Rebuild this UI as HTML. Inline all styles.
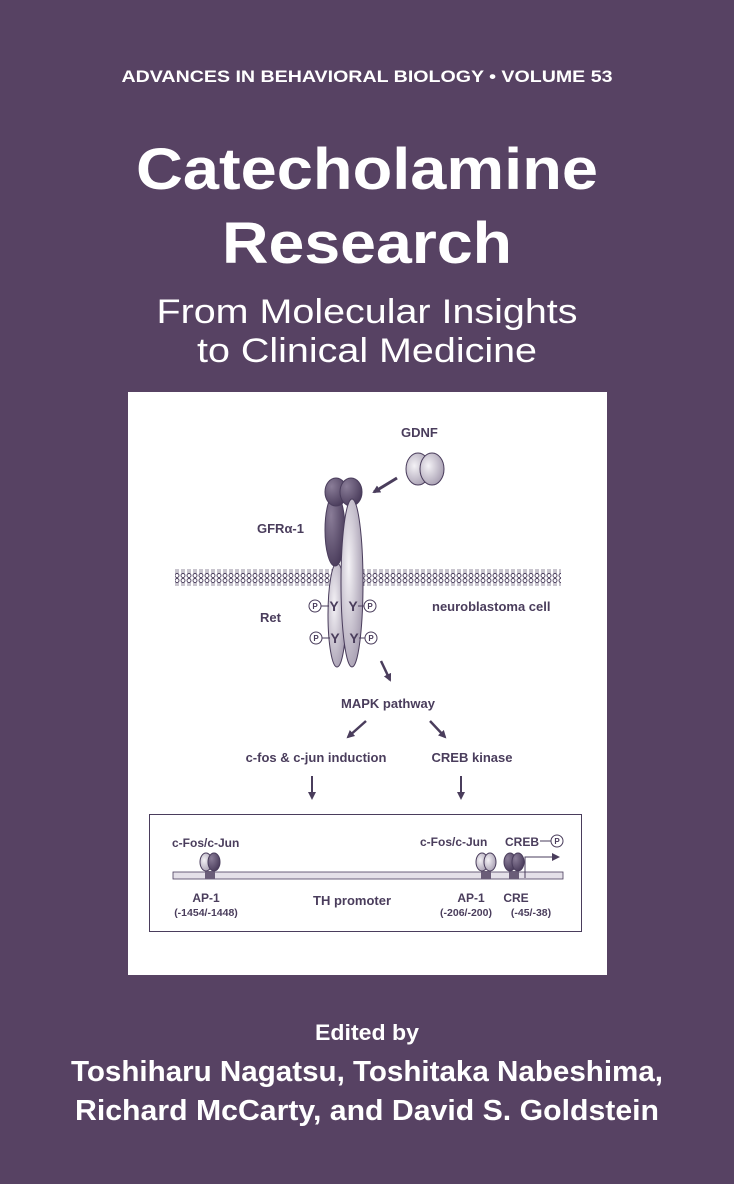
<!DOCTYPE html>
<html><head><meta charset="utf-8"><style>
html,body{margin:0;padding:0;background:#574263;}
svg{display:block}
</style></head><body>
<svg width="734" height="1184" viewBox="0 0 734 1184" xmlns="http://www.w3.org/2000/svg" font-family="Liberation Sans, Arial, sans-serif">
<defs>
<pattern id="mem" width="6" height="17" patternUnits="userSpaceOnUse">
<rect width="6" height="17" fill="#fff"/>
<circle cx="3" cy="2.5" r="2" fill="none" stroke="#4a3d5c" stroke-width="0.9"/>
<circle cx="3" cy="14.5" r="2" fill="none" stroke="#4a3d5c" stroke-width="0.9"/>
<line x1="2" y1="4.5" x2="2" y2="12.5" stroke="#4a3d5c" stroke-width="0.6"/>
<line x1="4" y1="4.5" x2="4" y2="12.5" stroke="#4a3d5c" stroke-width="0.6"/>
</pattern>
<radialGradient id="lg" cx="0.35" cy="0.4" r="0.8"><stop offset="0" stop-color="#f4f2f6"/><stop offset="1" stop-color="#9a90a6"/></radialGradient>
<radialGradient id="dg" cx="0.3" cy="0.3" r="0.9"><stop offset="0" stop-color="#8a7d98"/><stop offset="1" stop-color="#3e3050"/></radialGradient>
<marker id="ah" markerWidth="8" markerHeight="8" refX="6" refY="4" orient="auto" markerUnits="userSpaceOnUse"><path d="M0,0 L8,4 L0,8 Z" fill="#4a3d5c"/></marker>
</defs>
<rect width="734" height="1184" fill="#574263"/>
<g fill="#fff" text-anchor="middle" font-weight="bold">
<text x="367" y="82" font-size="17" textLength="491" lengthAdjust="spacingAndGlyphs">ADVANCES IN BEHAVIORAL BIOLOGY • VOLUME 53</text>
<text x="367" y="189" font-size="58" textLength="462" lengthAdjust="spacingAndGlyphs">Catecholamine</text>
<text x="367" y="263" font-size="58" textLength="290" lengthAdjust="spacingAndGlyphs">Research</text>
<text x="367" y="1040" font-size="22" textLength="104" lengthAdjust="spacingAndGlyphs">Edited by</text>
<text x="367" y="1081" font-size="29" textLength="592" lengthAdjust="spacingAndGlyphs">Toshiharu Nagatsu, Toshitaka Nabeshima,</text>
<text x="367" y="1120" font-size="29" textLength="584" lengthAdjust="spacingAndGlyphs">Richard McCarty, and David S. Goldstein</text>
</g>
<g fill="#fff" text-anchor="middle">
<text x="367" y="323" font-size="34" textLength="421" lengthAdjust="spacingAndGlyphs">From Molecular Insights</text>
<text x="367" y="362" font-size="34" textLength="340" lengthAdjust="spacingAndGlyphs">to Clinical Medicine</text>
</g>
<rect x="128" y="392" width="479" height="583" fill="#fff"/>
<g fill="#4a3d5c" font-weight="bold" font-size="13">
<text x="401" y="437">GDNF</text>
<text x="257" y="533">GFRα-1</text>
<text x="260" y="622">Ret</text>
<text x="432" y="611">neuroblastoma cell</text>
<text x="388" y="708" text-anchor="middle">MAPK pathway</text>
<text x="316" y="762" text-anchor="middle">c-fos &amp; c-jun induction</text>
<text x="472" y="762" text-anchor="middle">CREB kinase</text>
<text x="172" y="847" font-size="12">c-Fos/c-Jun</text>
<text x="420" y="846" font-size="12">c-Fos/c-Jun</text>
<text x="505" y="846" font-size="12">CREB</text>
<text x="206" y="902" font-size="12" text-anchor="middle">AP-1</text>
<text x="206" y="916" font-size="10.5" text-anchor="middle">(-1454/-1448)</text>
<text x="352" y="905" font-size="13" text-anchor="middle">TH promoter</text>
<text x="471" y="902" font-size="12" text-anchor="middle">AP-1</text>
<text x="466" y="916" font-size="10.5" text-anchor="middle">(-206/-200)</text>
<text x="516" y="902" font-size="12" text-anchor="middle">CRE</text>
<text x="531" y="916" font-size="10.5" text-anchor="middle">(-45/-38)</text>
</g>
<ellipse cx="418" cy="469" rx="12" ry="16" fill="url(#lg)" stroke="#4a3d5c"/>
<ellipse cx="432" cy="469" rx="12" ry="16" fill="url(#lg)" stroke="#4a3d5c"/>
<line x1="397" y1="478" x2="374" y2="492" stroke="#4a3d5c" stroke-width="3" marker-end="url(#ah)"/>
<rect x="175" y="569" width="386" height="17" fill="url(#mem)"/>
<ellipse cx="337" cy="615" rx="9" ry="52" fill="url(#lg)" stroke="#4a3d5c"/>
<ellipse cx="335" cy="530" rx="10" ry="36" fill="url(#dg)" stroke="#4a3d5c"/>
<ellipse cx="336" cy="492" rx="11" ry="14" fill="url(#dg)" stroke="#4a3d5c"/>
<ellipse cx="351" cy="492" rx="11" ry="14" fill="url(#dg)" stroke="#4a3d5c"/>
<ellipse cx="352" cy="583" rx="11" ry="84" fill="url(#lg)" stroke="#4a3d5c"/>
<g fill="#4a3d5c" font-weight="bold" font-size="14" text-anchor="middle">
<text x="334" y="611">Y</text><text x="353" y="611">Y</text>
<text x="335" y="643">Y</text><text x="354" y="643">Y</text>
</g>
<g fill="#fff" stroke="#4a3d5c" stroke-width="1">
<line x1="321" y1="606" x2="329" y2="606"/><line x1="358" y1="606" x2="364" y2="606"/>
<line x1="322" y1="638" x2="330" y2="638"/><line x1="359" y1="638" x2="365" y2="638"/>
<circle cx="315" cy="606" r="6"/><circle cx="370" cy="606" r="6"/>
<circle cx="316" cy="638" r="6"/><circle cx="371" cy="638" r="6"/>
<circle cx="557" cy="841" r="6"/>
<line x1="540" y1="841" x2="551" y2="841"/>
</g>
<g fill="#4a3d5c" font-weight="bold" font-size="8" text-anchor="middle">
<text x="315" y="609">P</text><text x="370" y="609">P</text><text x="316" y="641">P</text><text x="371" y="641">P</text><text x="557" y="844">P</text>
</g>
<g stroke="#4a3d5c" stroke-width="2.5">
<line x1="381" y1="661" x2="390" y2="680" marker-end="url(#ah)"/>
<line x1="366" y1="721" x2="348" y2="737" marker-end="url(#ah)"/>
<line x1="430" y1="721" x2="445" y2="737" marker-end="url(#ah)"/>
<line x1="312" y1="776" x2="312" y2="798" stroke-width="2" marker-end="url(#ah)"/>
<line x1="461" y1="776" x2="461" y2="798" stroke-width="2" marker-end="url(#ah)"/>
</g>
<rect x="149.5" y="814.5" width="432" height="117" fill="none" stroke="#4a3d5c" stroke-width="1"/>
<rect x="173" y="872" width="390" height="7" fill="#e4e0e8" stroke="#4a3d5c" stroke-width="0.8"/>
<rect x="205" y="871" width="10" height="8" fill="#6a5d78"/>
<rect x="481" y="871" width="10" height="8" fill="#6a5d78"/>
<rect x="509" y="871" width="10" height="8" fill="#6a5d78"/>
<ellipse cx="206" cy="862" rx="6" ry="9" fill="url(#lg)" stroke="#4a3d5c"/>
<ellipse cx="214" cy="862" rx="6" ry="9" fill="url(#dg)" stroke="#4a3d5c"/>
<ellipse cx="482" cy="862" rx="6" ry="9" fill="url(#lg)" stroke="#4a3d5c"/>
<ellipse cx="490" cy="862" rx="6" ry="9" fill="url(#lg)" stroke="#4a3d5c"/>
<ellipse cx="510" cy="862" rx="6" ry="9" fill="url(#dg)" stroke="#4a3d5c"/>
<ellipse cx="518" cy="862" rx="6" ry="9" fill="url(#dg)" stroke="#4a3d5c"/>
<polyline points="525,878 525,857 558,857" fill="none" stroke="#4a3d5c" stroke-width="1" marker-end="url(#ah)"/>
</svg>
</body></html>
